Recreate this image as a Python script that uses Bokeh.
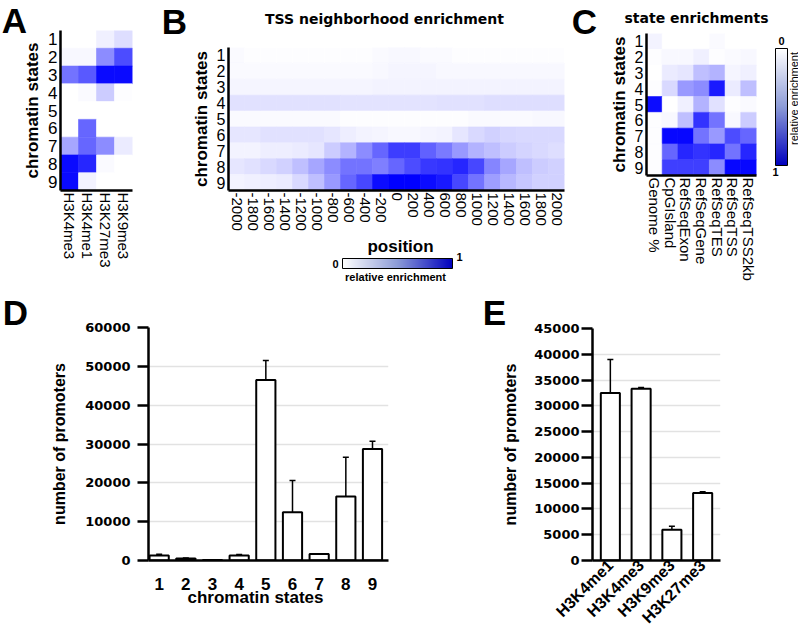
import math
from bokeh.plotting import figure
from bokeh.models import (ColumnDataSource, LinearColorMapper, ColorBar, FixedTicker, Label,
                          Range1d, FactorRange, Whisker, TeeHead)
from bokeh.transform import transform
from bokeh.layouts import row, column
from bokeh.embed import file_html
from bokeh.resources import INLINE

# ---------------- data ----------------
states = ["1", "2", "3", "4", "5", "6", "7", "8", "9"]

a_marks = ["H3K4me3", "H3K4me1", "H3K27me3", "H3K9me3"]
a_vals = [
    [0.00, 0.00, 0.06, 0.13],
    [0.03, 0.03, 0.45, 0.70],
    [0.55, 0.65, 0.96, 0.96],
    [0.00, 0.02, 0.20, 0.01],
    [0.00, 0.00, 0.00, 0.00],
    [0.00, 0.60, 0.00, 0.00],
    [0.35, 0.60, 0.45, 0.08],
    [0.96, 0.85, 0.02, 0.00],
    [0.96, 0.05, 0.00, 0.00],
]

b_positions = ["-2000", "-1800", "-1600", "-1400", "-1200", "-1000", "-800", "-600", "-400", "-200",
               "0", "200", "400", "600", "800", "1000", "1200", "1400", "1600", "1800", "2000"]
b_vals = [
    [0.02, 0.01, 0.01, 0.01, 0.01, 0.01, 0.01, 0.01, 0.01, 0.02, 0.03, 0.03, 0.02, 0.02, 0.01, 0.01, 0.01, 0.01, 0.01, 0.01, 0.01],
    [0.02, 0.02, 0.02, 0.02, 0.02, 0.02, 0.02, 0.02, 0.02, 0.03, 0.04, 0.04, 0.04, 0.03, 0.03, 0.03, 0.03, 0.03, 0.03, 0.03, 0.03],
    [0.04, 0.04, 0.04, 0.04, 0.04, 0.04, 0.04, 0.04, 0.04, 0.05, 0.05, 0.05, 0.05, 0.05, 0.05, 0.05, 0.05, 0.05, 0.05, 0.05, 0.05],
    [0.12, 0.12, 0.12, 0.12, 0.12, 0.12, 0.12, 0.11, 0.11, 0.11, 0.11, 0.11, 0.11, 0.12, 0.12, 0.12, 0.13, 0.13, 0.13, 0.13, 0.13],
    [0.02, 0.02, 0.02, 0.02, 0.02, 0.02, 0.02, 0.01, 0.01, 0.01, 0.01, 0.01, 0.01, 0.01, 0.01, 0.02, 0.02, 0.02, 0.02, 0.03, 0.03],
    [0.10, 0.10, 0.12, 0.12, 0.12, 0.12, 0.10, 0.07, 0.05, 0.04, 0.03, 0.03, 0.04, 0.05, 0.10, 0.15, 0.18, 0.16, 0.15, 0.15, 0.15],
    [0.05, 0.05, 0.07, 0.07, 0.08, 0.10, 0.20, 0.30, 0.45, 0.60, 0.76, 0.76, 0.62, 0.52, 0.40, 0.30, 0.25, 0.20, 0.17, 0.15, 0.13],
    [0.10, 0.12, 0.15, 0.18, 0.25, 0.35, 0.45, 0.55, 0.55, 0.50, 0.60, 0.70, 0.78, 0.80, 0.85, 0.72, 0.48, 0.35, 0.25, 0.20, 0.18],
    [0.05, 0.06, 0.07, 0.08, 0.15, 0.25, 0.40, 0.60, 0.72, 0.95, 1.00, 1.00, 0.95, 0.90, 0.72, 0.55, 0.38, 0.28, 0.22, 0.18, 0.18],
]

c_features = ["Genome %", "CpGIsland", "RefSeqExon", "RefSeqGene", "RefSeqTES", "RefSeqTSS", "RefSeqTSS2kb"]
c_vals = [
    [0.05, 0.00, 0.00, 0.00, 0.02, 0.00, 0.00],
    [0.01, 0.03, 0.03, 0.06, 0.01, 0.02, 0.03],
    [0.00, 0.08, 0.10, 0.25, 0.30, 0.04, 0.06],
    [0.01, 0.15, 0.40, 0.45, 0.90, 0.08, 0.25],
    [0.95, 0.00, 0.06, 0.30, 0.12, 0.01, 0.02],
    [0.01, 0.03, 0.25, 0.80, 0.55, 0.03, 0.20],
    [0.01, 0.97, 0.97, 0.55, 0.40, 0.70, 0.60],
    [0.01, 0.60, 0.85, 0.80, 0.85, 0.55, 0.85],
    [0.01, 0.75, 0.75, 0.75, 0.45, 0.97, 0.97],
]

d_states = [1, 2, 3, 4, 5, 6, 7, 8, 9]
d_counts = [1300, 500, 100, 1300, 46500, 12400, 1700, 16500, 28700]
d_errors = [300, 150, 0, 250, 5000, 8200, 0, 10100, 2000]
d_ticks = [0, 10000, 20000, 30000, 40000, 50000, 60000]

e_marks = ["H3K4me1", "H3K4me3", "H3K9me3", "H3K27me3"]
e_counts = [32500, 33300, 5950, 13100]
e_errors = [6500, 250, 700, 250]
e_ticks = [0, 5000, 10000, 15000, 20000, 25000, 30000, 35000, 40000, 45000]

# ---------------- styles ----------------
REG = "Liberation Sans"
WIDE = "DejaVu Sans"


def ramp(stops, n=256):
    out = []
    for i in range(n):
        t = i / (n - 1)
        for k in range(len(stops) - 1):
            t0, c0 = stops[k]
            t1, c1 = stops[k + 1]
            if t0 <= t <= t1:
                f = (t - t0) / (t1 - t0)
                c = [round(c0[j] + (c1[j] - c0[j]) * f) for j in range(3)]
                out.append("#%02x%02x%02x" % tuple(c))
                break
    return out


heat_pal = ramp([(0, (255, 255, 255)), (1, (0, 0, 255))])
legend_pal = ramp([(0, (255, 255, 255)), (0.5, (140, 155, 215)), (1, (0, 0, 190))])
heat_mapper = LinearColorMapper(palette=heat_pal, low=0, high=1)


def lab(p, side, x, y, text, size, bold=True, font=REG, angle=0.0):
    """Text in a side panel slot (screen offsets from that slot's left / bottom edge)."""
    p.add_layout(Label(x=x, y=y, x_units="screen", y_units="screen", text=text,
                       text_font=font, text_font_size=size,
                       text_font_style="bold" if bold else "normal",
                       text_align="center", text_baseline="middle", angle=angle,
                       text_color="black"), side)


def heatmap(cols, vals, fw, fh, bl, br, bt, bb, ysize):
    xs, ys, vs = [], [], []
    for i, s in enumerate(states):
        for j, c in enumerate(cols):
            xs.append(c)
            ys.append(s)
            vs.append(vals[i][j])
    src = ColumnDataSource(dict(x=xs, y=ys, v=vs))
    p = figure(x_range=FactorRange(*cols), y_range=FactorRange(*states[::-1]), title=None,
               frame_width=fw, frame_height=fh, min_border_left=bl, min_border_right=br,
               min_border_top=bt, min_border_bottom=bb, frame_align=False,
               output_backend="svg", toolbar_location=None)
    p.rect("x", "y", 1, 1, source=src, fill_color=transform("v", heat_mapper),
           line_color=transform("v", heat_mapper), line_width=0.6)
    p.grid.visible = False
    p.outline_line_color = None
    for ax in (p.xaxis, p.yaxis):
        ax.axis_line_width = 2.5
        ax.axis_line_color = "black"
        ax.major_tick_line_color = None
        ax.minor_tick_line_color = None
        ax.major_tick_out = 0
        ax.major_tick_in = 0
        ax.major_label_text_font = REG
        ax.major_label_text_color = "black"
    p.xaxis.major_label_orientation = "vertical"
    p.xaxis.major_label_text_font_size = "15px"
    p.xaxis.major_label_standoff = 2
    p.yaxis.major_label_text_font_size = ysize
    p.yaxis.major_label_standoff = 3
    p.yaxis.axis_label = "chromatin states"
    p.yaxis.axis_label_text_font = REG
    p.yaxis.axis_label_text_font_size = "17px"
    p.yaxis.axis_label_text_font_style = "bold"
    p.yaxis.axis_label_text_color = "black"
    p.yaxis.axis_label_standoff = 3
    return p


def colorbar(mapper, orient, loc, w, h):
    return ColorBar(color_mapper=mapper, orientation=orient, location=loc,
                    width=w, height=h, padding=0, ticker=FixedTicker(ticks=[]),
                    major_tick_line_color=None, major_label_text_font_size="0px",
                    bar_line_color="black", bar_line_width=1, background_fill_color=None,
                    border_line_color=None, major_tick_out=0, label_standoff=0)


# ---------------- top row ----------------
# A: frame 60..132 x 30..190
pA = heatmap(a_marks, a_vals, 72, 160, 60, 28, 30, 100, "17px")
lab(pA, "right", -118, 170, "A", "35px")

# B: frame 228..564 x 47..190
pB = heatmap(b_positions, b_vals, 336, 143, 68, 7, 47, 100, "16px")
lab(pB, "above", 156, 29, "TSS neighborhood enrichment", "14px", font=WIDE)
lab(pB, "left", 11, 169, "B", "35px")
lab(pB, "right", -229, -73, "0", "11px")
lab(pB, "below", 172, 6, "position", "17px")
lab(pB, "below", 167, -12, "relative enrichment", "11px")
lab(pB, "below", 231, 16, "1", "11px")
b_bar_mapper = LinearColorMapper(palette=legend_pal, low=0, high=1)
pB.add_layout(colorbar(b_bar_mapper, "horizontal", (114, -78), 110, 10), "center")

# C: frame 646..756 x 33..175
pC = heatmap(c_features, c_vals, 110, 142, 75, 42, 33, 115, "16px")
lab(pC, "above", 50, 16, "state enrichments", "14px", font=WIDE)
lab(pC, "above", 135, -23, "0", "11px")
lab(pC, "left", 175, 4, "1", "11px")
lab(pC, "left", 9, 154, "C", "35px")
lab(pC, "right", 37, 77, "relative enrichment", "11px", bold=False, angle=math.pi / 2)
c_bar_mapper = LinearColorMapper(palette=legend_pal[::-1], low=0, high=1)
pC.add_layout(colorbar(c_bar_mapper, "vertical", (129, 10), 12, 117), "center")


# ---------------- bottom row ----------------
def style_bar_axes(p, ticks, tick_standoff, title_standoff):
    p.outline_line_color = None
    p.xgrid.grid_line_color = None
    p.ygrid.ticker = FixedTicker(ticks=ticks)
    p.ygrid.grid_line_color = "#e2e2e2"
    p.ygrid.grid_line_width = 1.5
    p.yaxis.ticker = FixedTicker(ticks=ticks)
    for ax in (p.xaxis, p.yaxis):
        ax.axis_line_width = 2.5
        ax.axis_line_color = "black"
        ax.minor_tick_line_color = None
        ax.major_label_text_color = "black"
    p.yaxis.major_tick_line_width = 2.5
    p.yaxis.major_tick_line_color = "black"
    p.yaxis.major_tick_out = 11
    p.yaxis.major_tick_in = 0
    p.yaxis.major_label_text_font = WIDE
    p.yaxis.major_label_text_font_style = "bold"
    p.yaxis.major_label_text_font_size = "13px"
    p.yaxis.major_label_standoff = tick_standoff
    p.yaxis.axis_label = "number of promoters"
    p.yaxis.axis_label_text_font = REG
    p.yaxis.axis_label_text_font_style = "bold"
    p.yaxis.axis_label_text_font_size = "16px"
    p.yaxis.axis_label_text_color = "black"
    p.yaxis.axis_label_standoff = title_standoff
    p.xaxis.major_tick_line_color = None
    p.xaxis.major_tick_out = 0
    p.xaxis.major_tick_in = 0
    p.xaxis.major_label_text_font = REG
    p.xaxis.major_label_text_font_style = "bold"


# D: frame 148..388 x 327..560
pD = figure(x_range=Range1d(0.6, 9.6), y_range=Range1d(0, 60000), title=None,
            frame_width=240, frame_height=233, min_border_left=148, min_border_right=52,
            min_border_top=37, min_border_bottom=78, frame_align=False,
            output_backend="svg", toolbar_location=None)
d_src = ColumnDataSource(dict(x=d_states, top=d_counts,
                              upper=[c + e for c, e in zip(d_counts, d_errors)]))
pD.add_layout(Whisker(source=d_src, base="x", lower="top", upper="upper",
                      line_width=1.5, line_color="black", lower_head=None,
                      upper_head=TeeHead(size=6, line_width=1.5, line_color="black")))
pD.vbar(x="x", top="top", bottom=0, width=0.72, source=d_src, fill_color="white",
        line_color="black", line_width=2)
style_bar_axes(pD, d_ticks, 7, 14)
pD.xaxis.ticker = FixedTicker(ticks=d_states)
pD.xaxis.major_label_text_font_size = "17px"
pD.xaxis.major_label_standoff = 17
lab(pD, "below", 107, 14, "chromatin states", "17px")
lab(pD, "right", -373, 248, "D", "35px")

# E: frame 592..720 x 328..560
pE = figure(x_range=FactorRange(*e_marks, range_padding=0.04), y_range=Range1d(0, 45000),
            title=None, frame_width=128, frame_height=232, min_border_left=152,
            min_border_right=78, min_border_top=38, min_border_bottom=78, frame_align=False,
            output_backend="svg", toolbar_location=None)
e_src = ColumnDataSource(dict(x=e_marks, top=e_counts,
                              upper=[c + e for c, e in zip(e_counts, e_errors)]))
pE.add_layout(Whisker(source=e_src, base="x", lower="top", upper="upper",
                      line_width=1.5, line_color="black", lower_head=None,
                      upper_head=TeeHead(size=6, line_width=1.5, line_color="black")))
pE.vbar(x="x", top="top", bottom=0, width=0.62, source=e_src, fill_color="white",
        line_color="black", line_width=2)
style_bar_axes(pE, e_ticks, 2, 12)
pE.xaxis.major_label_orientation = math.pi / 4
pE.xaxis.major_label_text_font_size = "16px"
pE.xaxis.major_label_standoff = 2
lab(pE, "right", -226, 248, "E", "35px")

layout = column(row(pA, pB, pC), row(pD, pE))

open("out.html", "w").write(file_html(layout, INLINE))
